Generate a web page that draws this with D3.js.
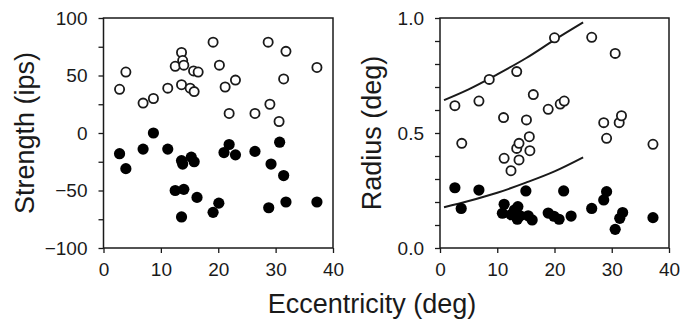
<!DOCTYPE html>
<html>
<head>
<meta charset="utf-8">
<script src="https://cdn.jsdelivr.net/npm/d3@7"></script>
<style>
  body { margin: 0; background: #fff; }
  svg { display: block; font-family: 'Liberation Sans', Arial, sans-serif; }
</style>
</head>
<body>
<svg id="chart" width="696" height="328"></svg>
<script>
// eccentricity (deg) vs strength (ips)
const strengthOpen = [
  [2.8, 38], [3.9, 53], [6.9, 26], [8.7, 30], [11.2, 39], [12.5, 58], [13.6, 70],
  [13.8, 63], [14.0, 59], [13.6, 42], [15.1, 39], [15.8, 36], [15.7, 54], [16.5, 53],
  [19.1, 79], [20.2, 59], [21.2, 40], [23.0, 46], [21.9, 17], [26.4, 17], [28.7, 79],
  [29.0, 25], [30.6, 10], [31.8, 71], [31.4, 47], [37.2, 57]
];
const strengthFilled = [
  [2.8, -18], [3.9, -31], [6.9, -14], [8.7, 0], [11.2, -14], [13.6, -24], [13.8, -27],
  [15.3, -21], [15.8, -25], [12.5, -50], [14.0, -49], [13.6, -73], [16.3, -56],
  [19.1, -69], [20.1, -61], [21.0, -17], [21.9, -10], [23.0, -19], [26.4, -16],
  [29.2, -27], [30.7, -8], [31.4, -37], [28.8, -65], [31.8, -60], [37.2, -60]
];

// eccentricity (deg) vs radius (deg)
const radiusOpen = [
  [2.6, 0.619], [6.8, 0.639], [8.6, 0.733], [13.4, 0.767], [16.3, 0.667], [20.0, 0.914],
  [26.5, 0.916], [30.6, 0.846], [11.1, 0.567], [15.1, 0.557], [18.9, 0.603], [21.0, 0.626],
  [21.7, 0.639], [28.6, 0.545], [31.3, 0.545], [31.7, 0.575], [3.8, 0.455], [11.2, 0.390],
  [12.4, 0.336], [13.8, 0.383], [13.4, 0.433], [13.8, 0.455], [15.6, 0.484], [15.7, 0.423],
  [29.1, 0.477], [37.2, 0.451]
];
const radiusFilled = [
  [2.6, 0.262], [3.7, 0.172], [6.8, 0.252], [10.9, 0.151], [11.2, 0.190], [12.4, 0.145],
  [13.0, 0.165], [13.6, 0.180], [13.5, 0.125], [14.0, 0.140], [15.0, 0.248], [15.4, 0.140],
  [16.1, 0.122], [18.9, 0.152], [19.9, 0.138], [20.8, 0.125], [21.6, 0.248], [22.9, 0.139],
  [26.5, 0.172], [28.6, 0.209], [29.1, 0.245], [30.6, 0.081], [31.4, 0.129], [31.9, 0.154],
  [37.2, 0.132]
];
// boundary curves
const upperCurve = [[0.7, 0.643], [5, 0.69], [10, 0.755], [15, 0.825], [20, 0.905], [25, 0.981]];
const lowerCurve = [[0.7, 0.177], [5, 0.204], [10, 0.240], [15, 0.284], [20, 0.333], [25, 0.394]];

const xTicks = [0, 10, 20, 30, 40];
const strengthTicks = d3.range(-100, 101, 25);
const strengthLabels = [-100, -50, 0, 50, 100];
const radiusTicks = d3.range(0, 11).map(function(i) { return i / 10; });
const radiusLabels = [0, 0.5, 1];

const ink = '#1a1a1a';
const svg = d3.select('#chart');
const plotTop = 18, plotBottom = 248;

function panel(left, right, yDomain, yTicks, yLabels, fmt, title, titleX, openData, filledData, curves) {
  const x = d3.scaleLinear().domain([0, 40]).range([left, right]);
  const y = d3.scaleLinear().domain(yDomain).range([plotBottom, plotTop]);
  const g = svg.append('g');

  const xAxis = g.append('g')
    .attr('transform', 'translate(0,' + plotBottom + ')')
    .call(d3.axisBottom(x).tickValues(xTicks).tickSize(5).tickPadding(10).tickFormat(d3.format('d')));
  const yAxis = g.append('g')
    .attr('transform', 'translate(' + left + ',0)')
    .call(d3.axisLeft(y).tickValues(yTicks).tickSize(5).tickPadding(11)
      .tickFormat(function(d) {
        return yLabels.some(function(v) { return Math.abs(v - d) < 1e-9; }) ? fmt(d) : '';
      }));

  [xAxis, yAxis].forEach(function(a) {
    a.select('.domain').remove();
    a.selectAll('line').attr('stroke', ink).attr('stroke-width', 1.3);
    a.selectAll('text').attr('fill', ink).style('font-size', '19px')
      .style('font-family', "'Liberation Sans', Arial, sans-serif");
  });

  g.append('rect')
    .attr('x', left).attr('y', plotTop)
    .attr('width', right - left).attr('height', plotBottom - plotTop)
    .attr('fill', 'none').attr('stroke', ink).attr('stroke-width', 1.5);

  g.append('text')
    .attr('transform', 'translate(' + titleX + ',' + ((plotTop + plotBottom) / 2) + ') rotate(-90)')
    .attr('text-anchor', 'middle')
    .attr('fill', ink)
    .style('font-size', '27px')
    .text(title);

  const line = d3.line()
    .x(function(d) { return x(d[0]); })
    .y(function(d) { return y(d[1]); })
    .curve(d3.curveMonotoneX);
  curves.forEach(function(c) {
    g.append('path').attr('d', line(c))
      .attr('fill', 'none').attr('stroke', ink).attr('stroke-width', 2);
  });

  g.selectAll('.open').data(openData).enter().append('circle')
    .attr('cx', function(d) { return x(d[0]); })
    .attr('cy', function(d) { return y(d[1]); })
    .attr('r', 4.6)
    .attr('fill', '#fff').attr('stroke', ink).attr('stroke-width', 1.8);

  g.selectAll('.filled').data(filledData).enter().append('circle')
    .attr('cx', function(d) { return x(d[0]); })
    .attr('cy', function(d) { return y(d[1]); })
    .attr('r', 5.6)
    .attr('fill', '#000');
}

panel(103.5, 333, [-100, 100], strengthTicks, strengthLabels, d3.format('d'),
  'Strength (ips)', 34, strengthOpen, strengthFilled, []);
panel(440, 669, [0, 1], radiusTicks, radiusLabels, d3.format('.1f'),
  'Radius (deg)', 381, radiusOpen, radiusFilled, [upperCurve, lowerCurve]);

svg.append('text')
  .attr('x', 372).attr('y', 313)
  .attr('text-anchor', 'middle')
  .attr('fill', ink)
  .style('font-size', '27px')
  .text('Eccentricity (deg)');
</script>
</body>
</html>
